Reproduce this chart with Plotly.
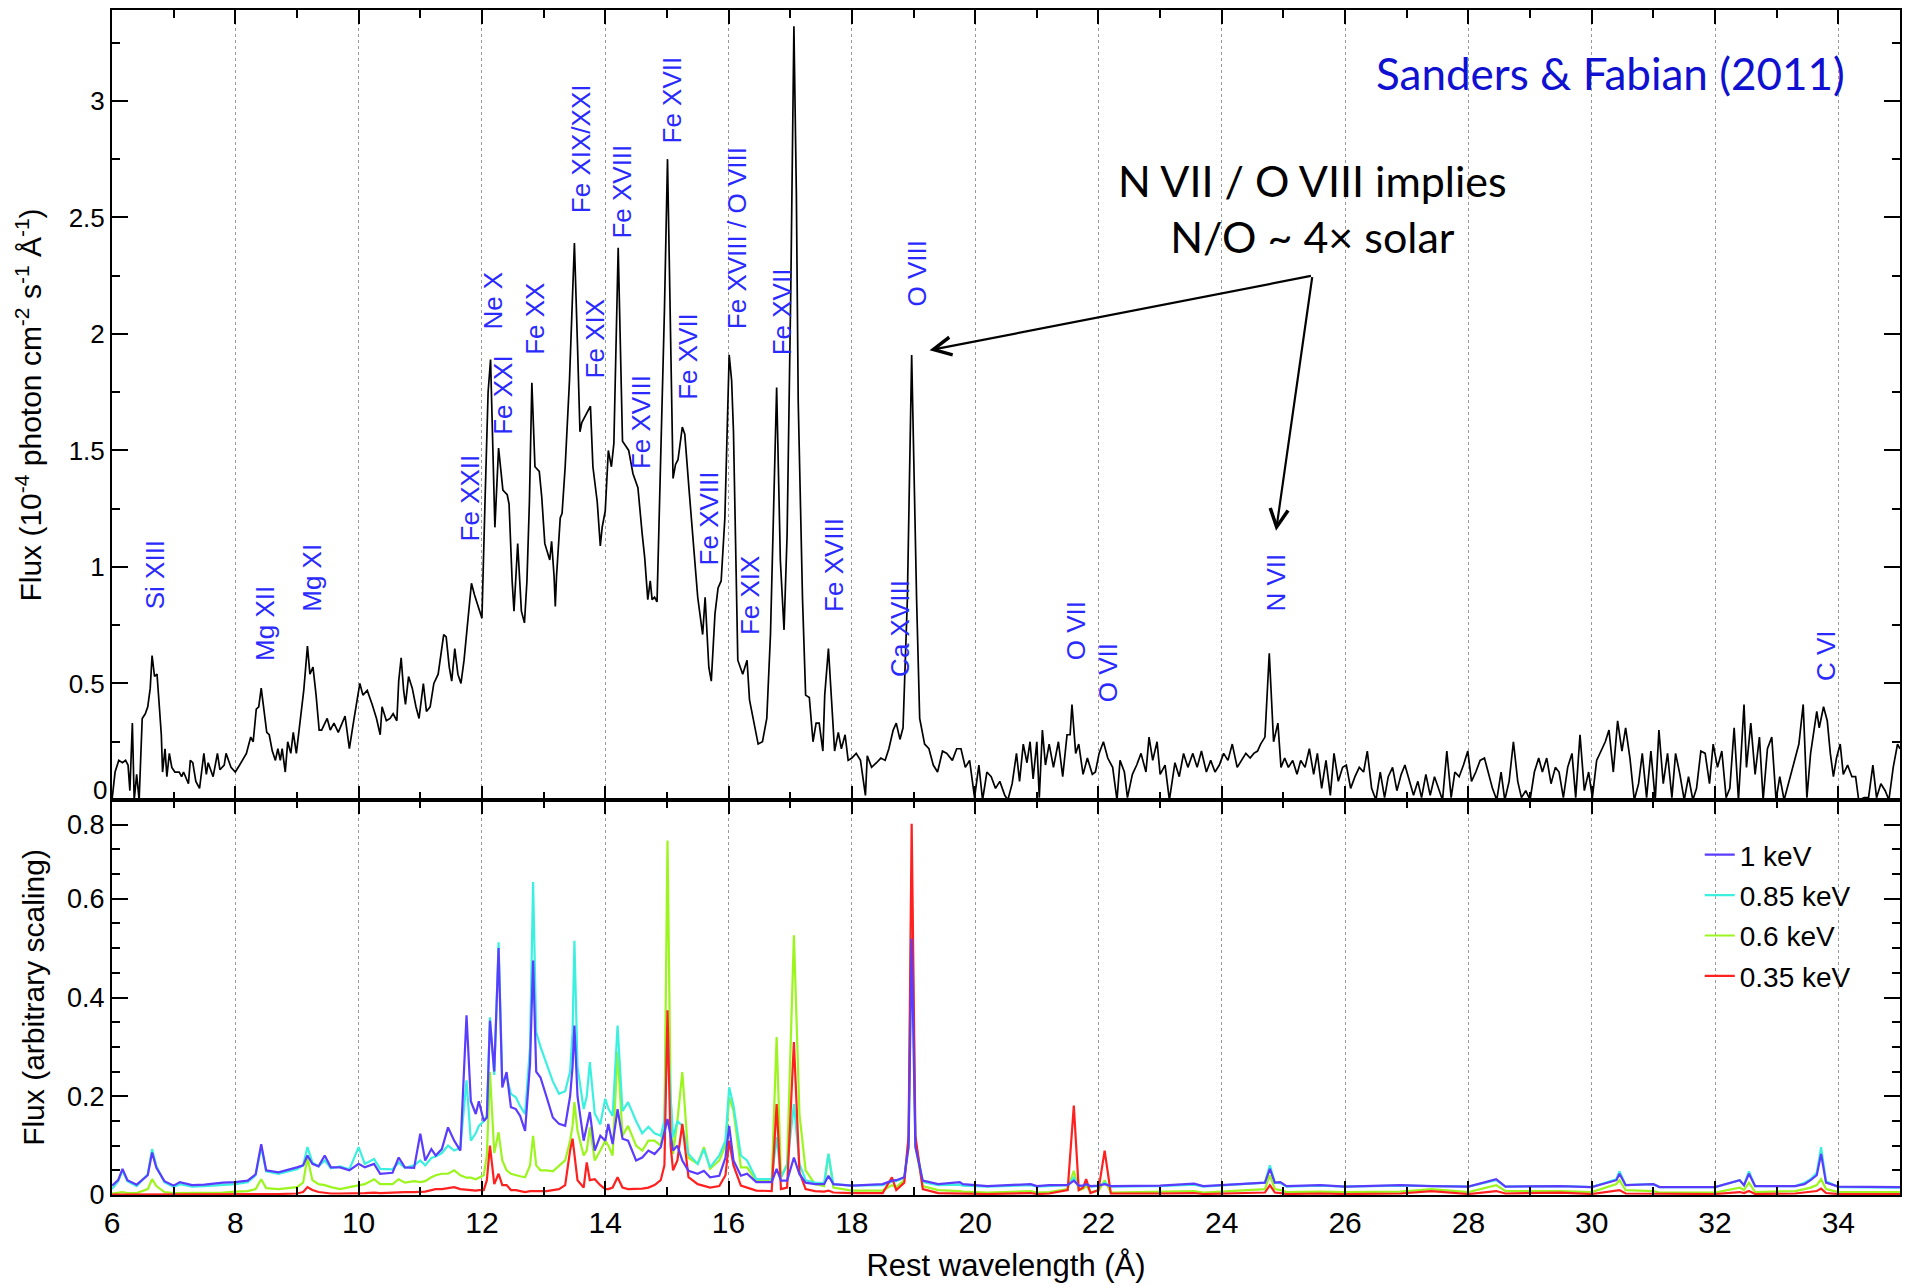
import plotly.graph_objects as go
from plotly.subplots import make_subplots

# ---------------- observed spectrum (top panel) ----------------
wl_obs = [6.00,6.05,6.11,6.17,6.22,6.26,6.29,6.33,6.36,6.40,6.44,6.49,6.54,6.58,6.62,6.65,6.69,6.73,6.76,6.80,
          6.82,6.86,6.89,6.93,6.97,7.02,7.09,7.13,7.16,7.24,7.27,7.31,7.36,7.42,7.49,7.53,7.56,7.64,7.71,7.75,
          7.82,7.85,7.93,8.00,8.07,8.18,8.25,8.29,8.34,8.38,8.42,8.47,8.51,8.55,8.60,8.65,8.69,8.73,8.76,8.81,
          8.85,8.90,8.94,8.99,9.05,9.11,9.17,9.21,9.26,9.31,9.36,9.40,9.49,9.54,9.60,9.67,9.78,9.85,9.92,10.00,
          10.02,10.07,10.14,10.22,10.29,10.35,10.38,10.45,10.51,10.56,10.62,10.65,10.69,10.73,10.76,10.81,10.87,10.93,10.98,11.05,
          11.10,11.16,11.22,11.29,11.38,11.42,11.47,11.51,11.56,11.61,11.66,11.71,11.75,11.79,11.83,11.88,11.93,12.00,
          12.05,12.10,12.14,12.18,12.21,12.27,12.34,12.41,12.44,12.49,12.52,12.58,12.64,12.69,12.73,12.77,12.81,12.86,12.93,12.97,
          13.02,13.10,13.13,13.17,13.19,13.21,13.27,13.30,13.35,13.42,13.50,13.55,13.59,13.62,13.68,13.76,13.80,13.87,13.92,13.95,
          14.00,14.05,14.10,14.14,14.21,14.28,14.33,14.38,14.45,14.53,14.60,14.64,14.69,14.73,14.76,14.80,14.84,14.90,14.96,15.01,
          15.06,15.10,15.14,15.18,15.25,15.29,15.36,15.43,15.50,15.58,15.62,15.68,15.72,15.78,15.83,15.88,15.94,16.01,
          16.05,16.08,16.12,16.15,16.23,16.30,16.34,16.41,16.48,16.55,16.62,16.68,16.73,16.78,16.84,16.90,16.95,17.01,17.06,17.10,
          17.13,17.20,17.25,17.31,17.37,17.42,17.47,17.53,17.56,17.62,17.67,17.72,17.78,17.83,17.89,17.94,18.00,
          18.07,18.14,18.22,18.25,18.32,18.40,18.47,18.54,18.60,18.67,18.72,18.78,18.83,18.90,18.97,19.05,19.10,19.18,19.25,19.32,
          19.39,19.47,19.54,19.63,19.70,19.77,19.84,19.91,19.99,
          20.06,20.12,20.19,20.26,20.33,20.40,20.48,20.53,20.60,20.67,20.72,20.78,20.84,20.89,20.94,21.00,21.04,21.09,21.14,21.20,
          21.27,21.35,21.42,21.49,21.54,21.57,21.63,21.68,21.75,21.82,21.90,21.95,22.01,22.08,22.15,22.23,22.30,22.35,22.42,22.47,
          22.55,22.62,22.69,22.77,22.82,22.88,22.95,23.00,23.08,23.15,23.24,23.31,23.38,23.45,23.53,23.60,23.67,23.75,23.82,23.89,
          23.96,24.03,24.10,24.17,24.25,24.32,24.39,24.46,24.52,24.58,24.63,24.70,24.77,24.84,24.91,24.96,25.02,
          25.08,25.15,25.22,25.28,25.35,25.42,25.49,25.55,25.62,25.69,25.76,25.82,25.89,25.96,26.02,26.09,26.16,26.23,26.30,26.36,
          26.43,26.50,26.57,26.64,26.70,26.77,26.84,26.91,26.97,27.04,27.11,27.18,27.24,27.31,27.38,27.45,27.51,27.58,27.65,27.72,
          27.78,27.85,27.92,27.99,28.05,28.12,28.19,28.26,28.32,28.39,28.46,28.53,28.59,28.66,28.73,28.80,28.86,28.93,29.00,29.07,
          29.14,29.20,29.27,29.34,29.41,29.47,29.54,29.61,29.68,29.74,29.81,29.88,29.95,30.01,30.08,30.15,30.22,30.28,30.35,30.42,
          30.49,30.55,30.62,30.69,30.76,30.82,30.89,30.96,31.03,31.09,31.16,31.23,31.30,31.36,31.43,31.50,31.57,31.64,31.70,31.77,
          31.84,31.91,31.97,32.04,32.11,32.18,32.24,32.31,32.38,32.47,32.51,32.58,32.65,32.72,32.78,32.85,32.92,32.99,33.05,33.12,
          33.19,33.26,33.32,33.36,33.43,33.49,33.55,33.65,33.69,33.76,33.82,33.87,33.92,33.97,34.03,34.08,34.15,34.22,34.28,34.33,
          34.42,34.49,34.56,34.62,34.69,34.76,34.82,34.89,34.96,35.00]

flux_obs = [0.00,0.12,0.17,0.16,0.17,0.15,0.04,0.33,0.00,0.11,0.00,0.35,0.37,0.40,0.48,0.62,0.53,0.54,0.43,0.28,
            0.12,0.22,0.10,0.20,0.14,0.12,0.12,0.10,0.12,0.07,0.17,0.16,0.08,0.05,0.20,0.11,0.16,0.10,0.20,0.13,
            0.15,0.20,0.14,0.12,0.15,0.20,0.27,0.25,0.39,0.40,0.48,0.37,0.29,0.28,0.21,0.17,0.22,0.17,0.22,0.12,
            0.25,0.20,0.29,0.20,0.34,0.47,0.66,0.54,0.57,0.45,0.30,0.30,0.35,0.30,0.33,0.29,0.36,0.22,0.34,0.48,
            0.50,0.45,0.47,0.41,0.35,0.28,0.40,0.34,0.35,0.37,0.34,0.51,0.61,0.47,0.41,0.53,0.48,0.40,0.35,0.50,
            0.38,0.40,0.50,0.54,0.71,0.70,0.57,0.51,0.65,0.54,0.50,0.60,0.71,0.79,0.93,0.88,0.84,0.78,
            1.28,1.75,1.89,1.50,1.17,1.51,1.33,1.31,1.27,0.94,0.81,1.10,0.81,0.76,0.94,1.28,1.79,1.43,1.41,1.30,
            1.10,1.03,1.11,0.96,0.83,0.96,1.21,1.23,1.43,1.80,2.39,1.95,1.58,1.62,1.65,1.69,1.43,1.28,1.09,1.17,
            1.24,1.50,1.43,1.53,2.37,1.54,1.52,1.50,1.40,1.34,1.14,1.04,0.86,0.94,0.86,0.87,0.85,1.43,2.10,2.75,
            2.00,1.38,1.44,1.46,1.60,1.57,1.33,1.10,0.87,0.71,0.87,0.57,0.51,0.80,0.91,0.94,1.21,1.91,
            1.80,1.58,1.00,0.60,0.54,0.60,0.43,0.34,0.24,0.25,0.35,0.71,1.28,1.77,1.03,0.73,1.14,2.20,3.32,2.60,
            1.71,0.86,0.45,0.44,0.25,0.33,0.33,0.21,0.45,0.65,0.43,0.21,0.29,0.22,0.28,0.17,0.18,
            0.20,0.17,0.02,0.19,0.14,0.16,0.18,0.17,0.22,0.30,0.33,0.26,0.31,0.86,1.91,0.86,0.35,0.24,0.22,0.15,
            0.12,0.21,0.20,0.17,0.22,0.22,0.14,0.17,0.01,
            0.15,0.00,0.12,0.10,0.05,0.08,0.02,0.00,0.07,0.20,0.08,0.24,0.16,0.25,0.09,0.25,0.01,0.30,0.15,0.24,
            0.14,0.25,0.10,0.28,0.28,0.41,0.20,0.24,0.11,0.18,0.11,0.12,0.20,0.25,0.18,0.14,0.00,0.17,0.12,0.01,
            0.11,0.15,0.20,0.12,0.27,0.17,0.25,0.11,0.15,0.00,0.16,0.10,0.20,0.14,0.20,0.14,0.21,0.12,0.17,0.12,
            0.15,0.20,0.17,0.24,0.14,0.17,0.20,0.18,0.20,0.21,0.24,0.27,0.63,0.25,0.33,0.14,0.18,
            0.14,0.17,0.11,0.17,0.14,0.22,0.11,0.20,0.05,0.17,0.02,0.20,0.08,0.14,0.15,0.05,0.10,0.14,0.12,0.21,
            0.05,0.00,0.12,0.01,0.10,0.14,0.04,0.11,0.15,0.08,0.02,0.08,0.01,0.11,0.02,0.10,0.05,0.00,0.21,0.01,
            0.12,0.10,0.15,0.21,0.08,0.12,0.17,0.18,0.12,0.05,0.00,0.12,0.00,0.08,0.25,0.08,0.01,0.04,0.00,0.12,
            0.18,0.12,0.18,0.07,0.14,0.12,0.01,0.14,0.20,0.01,0.28,0.04,0.12,0.01,0.17,0.21,0.25,0.30,0.12,0.34,
            0.21,0.31,0.18,0.00,0.07,0.20,0.01,0.21,0.00,0.30,0.07,0.20,0.01,0.20,0.11,0.00,0.10,0.00,0.05,0.21,
            0.20,0.07,0.24,0.14,0.21,0.01,0.05,0.31,0.00,0.41,0.14,0.33,0.11,0.27,0.00,0.22,0.27,0.00,0.10,0.00,
            0.07,0.14,0.21,0.24,0.41,0.01,0.20,0.38,0.31,0.40,0.34,0.20,0.10,0.18,0.24,0.11,0.15,0.10,0.10,0.00,
            0.01,0.01,0.15,0.01,0.07,0.04,0.00,0.14,0.24,0.22]

# ---------------- model spectra (bottom panel) ----------------
wl_model = [6.00,6.10,6.17,6.25,6.40,6.58,6.65,6.72,6.85,7.00,7.10,7.30,7.50,7.80,8.00,8.20,8.33,8.42,8.50,8.70,
            9.00,9.10,9.17,9.25,9.35,9.45,9.55,9.70,9.85,10.00,10.10,10.25,10.35,10.55,10.65,10.75,10.90,11.00,11.08,11.18,
            11.25,11.35,11.45,11.55,11.65,11.75,11.82,11.90,11.95,12.03,12.08,12.13,12.20,12.27,12.33,12.40,12.47,12.55,12.62,12.70,
            12.78,12.83,12.88,12.95,13.05,13.15,13.25,13.35,13.43,13.47,13.50,13.55,13.65,13.70,13.75,13.83,13.92,14.00,14.05,14.12,
            14.20,14.28,14.37,14.50,14.60,14.70,14.80,14.90,14.96,15.01,15.06,15.10,15.17,15.25,15.35,15.50,15.60,15.70,15.85,15.95,
            16.01,16.08,16.20,16.30,16.45,16.70,16.78,16.85,16.95,17.06,17.15,17.25,17.40,17.55,17.62,17.70,18.00,18.50,18.65,18.72,
            18.85,18.92,18.97,19.03,19.15,19.40,19.75,19.80,20.20,20.90,21.00,21.20,21.50,21.60,21.68,21.75,21.80,21.87,22.00,22.10,
            22.20,23.00,23.55,23.70,24.70,24.78,24.86,24.95,25.05,25.60,26.00,26.90,27.40,28.00,28.45,28.60,29.50,30.00,30.40,30.45,
            30.55,31.00,31.10,32.00,32.40,32.47,32.55,32.65,33.30,33.45,33.55,33.65,33.72,33.80,34.00,35.00]

flux_1keV = [0.019,0.030,0.053,0.030,0.021,0.040,0.086,0.055,0.028,0.019,0.026,0.020,0.021,0.025,0.026,0.029,0.042,0.103,0.050,0.046,
             0.056,0.060,0.080,0.063,0.058,0.080,0.056,0.056,0.050,0.063,0.056,0.063,0.043,0.045,0.076,0.056,0.055,0.124,0.070,0.093,
             0.080,0.093,0.137,0.110,0.090,0.364,0.190,0.164,0.190,0.150,0.157,0.353,0.250,0.500,0.218,0.249,0.178,0.174,0.160,0.130,
             0.265,0.475,0.250,0.238,0.198,0.157,0.144,0.140,0.200,0.260,0.343,0.200,0.110,0.140,0.168,0.090,0.120,0.110,0.144,0.103,
             0.174,0.114,0.110,0.070,0.076,0.090,0.083,0.097,0.125,0.154,0.120,0.090,0.100,0.070,0.049,0.043,0.049,0.036,0.039,0.076,
             0.140,0.070,0.039,0.043,0.026,0.026,0.053,0.029,0.029,0.076,0.042,0.025,0.022,0.022,0.039,0.022,0.019,0.022,0.029,0.030,
             0.036,0.097,0.519,0.097,0.029,0.022,0.026,0.022,0.018,0.022,0.018,0.020,0.020,0.029,0.019,0.019,0.022,0.018,0.019,0.022,
             0.018,0.019,0.023,0.018,0.025,0.053,0.025,0.026,0.018,0.020,0.017,0.020,0.018,0.017,0.032,0.017,0.018,0.016,0.030,0.043,
             0.020,0.022,0.016,0.016,0.030,0.020,0.043,0.018,0.018,0.022,0.030,0.040,0.083,0.025,0.017,0.016]

flux_085keV = [0.012,0.028,0.049,0.028,0.018,0.042,0.093,0.058,0.026,0.016,0.022,0.017,0.018,0.021,0.022,0.026,0.040,0.097,0.048,0.043,
               0.052,0.060,0.097,0.066,0.058,0.070,0.054,0.058,0.052,0.097,0.063,0.073,0.053,0.052,0.066,0.055,0.060,0.070,0.060,0.075,
               0.078,0.085,0.100,0.090,0.095,0.232,0.110,0.125,0.140,0.150,0.160,0.360,0.243,0.512,0.230,0.240,0.205,0.198,0.180,0.164,
               0.300,0.634,0.330,0.300,0.265,0.230,0.205,0.210,0.250,0.330,0.515,0.260,0.174,0.200,0.269,0.165,0.143,0.195,0.175,0.160,
               0.343,0.170,0.188,0.150,0.125,0.138,0.125,0.120,0.150,0.343,0.200,0.117,0.150,0.140,0.083,0.063,0.093,0.056,0.080,0.110,
               0.218,0.181,0.080,0.070,0.032,0.032,0.117,0.036,0.060,0.184,0.063,0.030,0.025,0.024,0.083,0.022,0.019,0.020,0.027,0.028,
               0.035,0.110,0.644,0.110,0.026,0.020,0.021,0.019,0.017,0.020,0.017,0.018,0.020,0.035,0.018,0.018,0.022,0.017,0.018,0.025,
               0.017,0.018,0.021,0.017,0.025,0.060,0.025,0.024,0.017,0.019,0.017,0.019,0.018,0.017,0.030,0.017,0.018,0.016,0.032,0.048,
               0.020,0.022,0.016,0.016,0.030,0.020,0.048,0.018,0.018,0.025,0.032,0.045,0.097,0.028,0.016,0.015]

flux_06keV = [0.003,0.004,0.006,0.004,0.004,0.012,0.032,0.018,0.006,0.004,0.004,0.004,0.004,0.005,0.007,0.008,0.012,0.032,0.014,0.012,
              0.016,0.025,0.076,0.030,0.022,0.020,0.016,0.012,0.016,0.019,0.022,0.032,0.022,0.022,0.032,0.025,0.028,0.026,0.028,0.036,
              0.040,0.043,0.043,0.050,0.040,0.035,0.035,0.032,0.035,0.040,0.080,0.249,0.085,0.127,0.070,0.050,0.043,0.040,0.038,0.036,
              0.060,0.120,0.060,0.050,0.050,0.048,0.060,0.070,0.110,0.140,0.188,0.130,0.080,0.090,0.137,0.070,0.090,0.110,0.100,0.080,
              0.290,0.120,0.140,0.100,0.090,0.110,0.110,0.100,0.150,0.718,0.200,0.083,0.150,0.249,0.075,0.063,0.097,0.053,0.070,0.100,
              0.198,0.171,0.056,0.056,0.029,0.029,0.320,0.036,0.063,0.526,0.164,0.050,0.022,0.018,0.083,0.015,0.009,0.009,0.020,0.016,
              0.030,0.100,0.610,0.100,0.018,0.010,0.008,0.007,0.005,0.008,0.005,0.006,0.012,0.049,0.010,0.012,0.020,0.006,0.008,0.030,
              0.005,0.006,0.008,0.005,0.012,0.040,0.012,0.010,0.006,0.007,0.006,0.007,0.012,0.006,0.020,0.008,0.008,0.006,0.022,0.030,
              0.010,0.008,0.005,0.005,0.015,0.010,0.025,0.006,0.008,0.012,0.015,0.020,0.032,0.012,0.006,0.006]

flux_035keV = [0.001,0.001,0.001,0.001,0.001,0.001,0.002,0.001,0.001,0.001,0.001,0.001,0.001,0.001,0.001,0.001,0.002,0.002,0.002,0.002,
               0.003,0.006,0.016,0.010,0.006,0.004,0.003,0.003,0.003,0.003,0.004,0.005,0.004,0.005,0.006,0.006,0.006,0.007,0.007,0.010,
               0.012,0.012,0.014,0.016,0.012,0.010,0.010,0.009,0.010,0.010,0.030,0.100,0.022,0.043,0.020,0.020,0.010,0.010,0.008,0.006,
               0.008,0.008,0.007,0.008,0.008,0.010,0.012,0.020,0.090,0.114,0.080,0.030,0.015,0.066,0.030,0.032,0.020,0.012,0.012,0.015,
               0.036,0.015,0.012,0.012,0.013,0.015,0.020,0.030,0.060,0.374,0.100,0.050,0.070,0.144,0.036,0.022,0.018,0.015,0.018,0.040,
               0.110,0.060,0.019,0.015,0.009,0.008,0.184,0.012,0.015,0.310,0.046,0.012,0.008,0.007,0.009,0.005,0.004,0.004,0.036,0.010,
               0.025,0.120,0.752,0.120,0.012,0.004,0.003,0.003,0.002,0.004,0.002,0.003,0.010,0.181,0.010,0.015,0.032,0.004,0.010,0.090,
               0.003,0.003,0.004,0.002,0.005,0.020,0.005,0.004,0.002,0.003,0.002,0.003,0.008,0.002,0.008,0.003,0.005,0.002,0.008,0.010,
               0.003,0.003,0.002,0.002,0.006,0.004,0.008,0.002,0.003,0.005,0.006,0.008,0.013,0.004,0.002,0.002]

model_names = ["1 keV", "0.85 keV", "0.6 keV", "0.35 keV"]
model_colors = ["#5a3cff", "#3cf0e0", "#9cf51e", "#ff2020"]

# ---------------- line identifications ----------------
ion_labels = ["Si XIII", "Mg XII", "Mg XI", "Fe XXII", "Ne X", "Fe XXI", "Fe XX", "Fe XIX/XXI", "Fe XIX",
              "Fe XVIII", "Fe XVIII", "Fe XVII", "Fe XVII", "Fe XVIII", "Fe XVIII / O VIII", "Fe XIX",
              "Fe XVII", "Fe XVIII", "Ca XVIII", "O VIII", "O VII", "O VII", "N VII", "C VI"]
ion_wl = [6.69, 8.48, 9.23, 11.81, 12.18, 12.34, 12.87, 13.60, 13.84,
          14.27, 14.59, 15.08, 15.34, 15.69, 16.13, 16.36,
          16.86, 17.70, 18.79, 19.06, 21.64, 22.16, 24.88, 33.80]
ion_flux = [0.81, 0.59, 0.80, 1.10, 2.01, 1.56, 1.90, 2.51, 1.80,
            2.40, 1.41, 2.81, 1.71, 1.00, 2.01, 0.70,
            1.90, 0.80, 0.52, 2.11, 0.59, 0.41, 0.80, 0.50]

x_ticks = [6, 8, 10, 12, 14, 16, 18, 20, 22, 24, 26, 28, 30, 32, 34]
top_yticks = [0, 0.5, 1, 1.5, 2, 2.5, 3]
top_ytext = ["", "0.5", "1", "1.5", "2", "2.5", "3"]   # the "0" is drawn slightly raised, as in the original
bot_yticks = [0, 0.2, 0.4, 0.6, 0.75]
bot_ytext = ["0", "0.2", "0.4", "0.6", "0.8"]

SANS = "Liberation Sans, Arial, sans-serif"
CAL = "Lato, Carlito, Calibri, sans-serif"

fig = make_subplots(rows=2, cols=1, shared_xaxes=True, vertical_spacing=0,
                    row_heights=[2 / 3, 1 / 3])

fig.add_trace(go.Scatter(x=wl_obs, y=flux_obs, mode="lines",
                         line=dict(color="black", width=1.7), showlegend=False),
              row=1, col=1)

model_values = [flux_1keV, flux_085keV, flux_06keV, flux_035keV]
draw_order = [2, 1, 3, 0]  # green, cyan, red, blue on top
for i in draw_order:
    fig.add_trace(go.Scatter(x=wl_model, y=model_values[i], mode="lines",
                             name=model_names[i], legendrank=i + 1,
                             legendgroup=model_names[i],
                             line=dict(color=model_colors[i], width=2.2)),
                  row=2, col=1)

axis_common = dict(showline=True, linecolor="black", linewidth=2, mirror="allticks",
                   ticks="inside", tickcolor="black", zeroline=False)

fig.update_xaxes(range=[6, 35], tickvals=x_ticks, ticklen=14, tickwidth=2,
                 showgrid=True, gridcolor="#9a9a9a", griddash="dot", gridwidth=1,
                 minor=dict(ticks="inside", dtick=1, tick0=6, ticklen=8, tickwidth=1.5,
                            tickcolor="black", showgrid=False),
                 tickfont=dict(family=SANS, size=30, color="black"),
                 **axis_common)
fig.update_xaxes(title=dict(text="Rest wavelength (Å)", font=dict(family=SANS, size=31, color="black"),
                            standoff=16), row=2, col=1)

fig.update_yaxes(range=[0, 3.39], tickmode="array", tickvals=top_yticks, ticktext=top_ytext,
                 ticklen=16, tickwidth=2, showgrid=False,
                 minor=dict(ticks="inside", dtick=0.25, tick0=0, ticklen=8, tickwidth=1.5, tickcolor="black"),
                 tickfont=dict(family=SANS, size=26, color="black"),
                 title=dict(text="Flux (10<sup>-4</sup> photon cm<sup>-2</sup> s<sup>-1</sup> Å<sup>-1</sup>)",
                            font=dict(family=SANS, size=30, color="black"), standoff=18),
                 row=1, col=1, **axis_common)
fig.update_yaxes(range=[0, 0.80], tickmode="array", tickvals=bot_yticks, ticktext=bot_ytext,
                 ticklen=16, tickwidth=2, showgrid=False,
                 minor=dict(ticks="inside", dtick=0.05, tick0=0, ticklen=8, tickwidth=1.5, tickcolor="black"),
                 tickfont=dict(family=SANS, size=27, color="black"),
                 title=dict(text="Flux (arbitrary scaling)", font=dict(family=SANS, size=30, color="black"),
                            standoff=14),
                 row=2, col=1, **axis_common)

annotations = []
for lab, xw, yf in zip(ion_labels, ion_wl, ion_flux):
    annotations.append(dict(x=xw, y=yf, xref="x", yref="y", text=lab, showarrow=False,
                            textangle=-90, xanchor="center", yanchor="bottom",
                            font=dict(family=SANS, size=26, color="#2a2aff")))

# raised "0" label of the upper panel
annotations.append(dict(x=0, y=0.045, xref="paper", yref="y", text="0", showarrow=False,
                        xanchor="right", yanchor="middle", xshift=-3,
                        font=dict(family=SANS, size=26, color="black")))

annotations.append(dict(x=34.14, y=3.12, xref="x", yref="y", text="Sanders & Fabian (2011)",
                        showarrow=False, xanchor="right", yanchor="middle",
                        font=dict(family=CAL, size=44, color="#1010d0")))
annotations.append(dict(x=25.47, y=2.54, xref="x", yref="y",
                        text="N VII / O VIII implies<br>N/O ~ 4× solar",
                        showarrow=False, xanchor="center", yanchor="middle", align="center",
                        font=dict(family=CAL, size=43, color="black")))
for hx, hy in [(19.26, 1.93), (24.88, 1.155)]:
    annotations.append(dict(x=hx, y=hy, xref="x", yref="y", ax=25.47, ay=2.25, axref="x", ayref="y",
                            text="", showarrow=True, arrowhead=5, arrowsize=1.6, arrowwidth=2.2,
                            arrowcolor="black"))

fig.update_layout(
    width=1905, height=1285,
    margin=dict(l=112, r=3, t=10, b=90),
    paper_bgcolor="white", plot_bgcolor="white",
    annotations=annotations,
    legend=dict(x=0.888, y=0.308, xanchor="left", yanchor="top", bgcolor="rgba(0,0,0,0)",
                font=dict(family=SANS, size=28, color="black"), tracegroupgap=1,
                traceorder="grouped"),
)

fig.write_html("out.html")
